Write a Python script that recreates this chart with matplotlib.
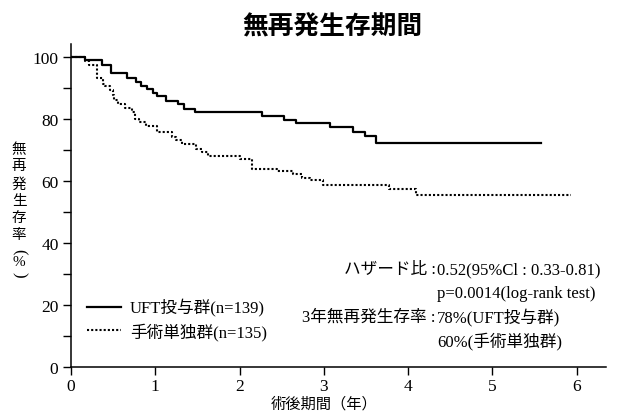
import matplotlib
matplotlib.use("Agg")
import matplotlib.pyplot as plt

plt.rcParams['font.family'] = ['Liberation Serif', 'Noto Sans CJK JP']

# UFT群 (solid) - step times (years) and survival (%)
uft_t = [0, 0.166, 0.364, 0.47, 0.668, 0.771, 0.827, 0.898, 0.968, 1.024, 1.123,
         1.273, 1.34, 1.471, 2.27, 2.527, 2.669, 3.07, 3.35, 3.49, 3.62, 5.58]
uft_s = [100, 98.9, 97.3, 94.8, 93.3, 91.9, 90.6, 89.7, 88.5, 87.4, 85.7,
         84.7, 83.3, 82.4, 80.9, 79.6, 78.7, 77.3, 75.7, 74.4, 72.2, 72.2]

# 手術単独群 (dotted)
sur_t = [0, 0.166, 0.217, 0.312, 0.376, 0.403, 0.463, 0.494, 0.51, 0.56, 0.64,
         0.72, 0.76, 0.81, 0.89, 1.016, 1.194, 1.245, 1.313, 1.483, 1.56, 1.63,
         2.005, 2.143, 2.44, 2.64, 2.74, 2.84, 2.99, 3.776, 4.1, 5.94]
sur_s = [100, 98.7, 97.3, 93.3, 91.4, 90.5, 89.2, 87.6, 86.2, 84.7, 83.5,
         82.3, 80.1, 79.0, 77.6, 75.8, 74.2, 73.1, 71.8, 70.4, 69.4, 68.0,
         67.2, 64.0, 63.2, 62.2, 61.1, 60.3, 58.7, 57.4, 55.5, 55.5]

labels = ["UFT投与群(n=139)", "手術単独群(n=135)"]
xticks = [0, 1, 2, 3, 4, 5, 6]
yticks = [0, 20, 40, 60, 80, 100]

W, H = 630, 414
fig = plt.figure(figsize=(W / 100, H / 100), dpi=100)
ax = fig.add_axes([71 / W, 1 - 368 / H, (606 - 71) / W, (368 - 45) / H])


def px(x, y):
    return x / W, 1 - y / H


ax.step(uft_t, uft_s, where='post', color='black', lw=1.6, label=labels[0])
ax.step(sur_t, sur_s, where='post', color='black', lw=1.5, ls=(0, (1, 1)), label=labels[1])

ax.set_xlim(0, 6.35)
ax.set_ylim(0, 104.2)
ax.spines['top'].set_visible(False)
ax.spines['right'].set_visible(False)
for s in ('left', 'bottom'):
    ax.spines[s].set_linewidth(1.1)

ax.set_xticks(xticks)
ax.set_yticks(yticks)
ax.set_yticks(range(10, 100, 20), minor=True)
ax.tick_params(axis='both', which='both', direction='out', width=1.0, labelsize=12.5)
ax.tick_params(axis='y', which='both', length=6, pad=3)
ax.tick_params(axis='x', length=6, pad=2)

leg = ax.legend(loc='upper left', bbox_to_anchor=px(79, 291), bbox_transform=fig.transFigure,
                frameon=False, fontsize=12, handlelength=2.0, handletextpad=0.55,
                labelspacing=0.35, borderpad=0)

# title
fig.text(*px(332, 27), "無再発生存期間", ha='center', va='center', fontsize=18.5,
         fontweight='bold', family=['Noto Sans CJK JP'])

# y label, written vertically
ylab = [("無", 150), ("再", 167), ("発", 185), ("生", 202), ("存", 219), ("率", 236)]
for ch, y in ylab:
    fig.text(*px(19, y), ch, ha='center', va='center', fontsize=10.5)
fig.text(*px(19, 252), "(", ha='center', va='center', fontsize=12, rotation=-90)
fig.text(*px(19, 263), "%", ha='center', va='center', fontsize=11)
fig.text(*px(19, 275), ")", ha='center', va='center', fontsize=12, rotation=-90)

# x label
fig.text(*px(324, 404), "術後期間（年）", ha='center', va='center', fontsize=11)

# statistics
fs = 12
fig.text(*px(436, 270), "ハザード比 :", ha='right', va='center', fontsize=fs)
fig.text(*px(437, 270), "0.52(95%Cl : 0.33-0.81)", ha='left', va='center', fontsize=fs)
fig.text(*px(437, 294), "p=0.0014(log-rank test)", ha='left', va='center', fontsize=fs)
fig.text(*px(436, 318), "3年無再発生存率 :", ha='right', va='center', fontsize=fs)
fig.text(*px(437, 318), "78%(UFT投与群)", ha='left', va='center', fontsize=fs)
fig.text(*px(437, 341), "60%(手術単独群)", ha='left', va='center', fontsize=fs)

fig.savefig("out.png", dpi=100)
